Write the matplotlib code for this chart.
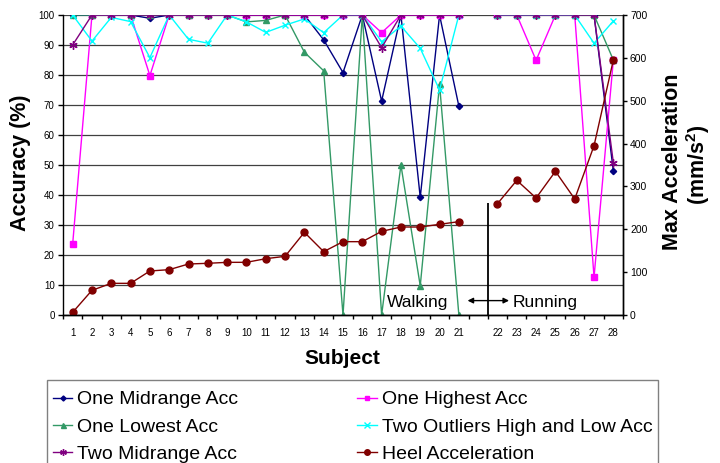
import numpy as np
import matplotlib
matplotlib.use('Agg')
import matplotlib.pyplot as plt
from matplotlib.lines import Line2D
from matplotlib.patches import Rectangle

plt.rcParams['font.family'] = ['Liberation Sans', 'DejaVu Sans']
plt.rcParams['mathtext.fontset'] = 'custom'
plt.rcParams['mathtext.rm'] = 'Liberation Sans'
plt.rcParams['mathtext.bf'] = 'Liberation Sans:bold'

# ---------------- data ----------------
categories = [str(i) for i in range(1, 22)] + [''] + [str(i) for i in range(22, 29)]

one_midrange = [100, 100, 100, 100, 98.9, 100, 100, 100, 100, 100, 100, 100, 100, 91.7,
                80.8, 100, 71.3, 100, 39.2, 100, 69.6,
                100, 100, 100, 100, 100, 100, 48]
one_highest = [23.6, 100, 100, 100, 79.8, 100, 100, 100, 100, 100, 100, 100, 100, 100,
               100, 100, 94.1, 100, 100, 100, 100,
               100, 100, 84.9, 100, 100, 12.6, 85]
one_lowest = [100, 100, 100, 100, 100, 100, 100, 100, 100, 97.7, 98.2, 100, 87.6, 81.4,
              0, 100, 0, 50, 9.7, 76.9, 0,
              100, 100, 100, 100, 100, 100, 85]
two_outliers = [100, 91.3, 99.2, 97.8, 85.8, 100, 91.9, 90.6, 100, 97.7, 94.2, 96.6, 98.7, 94.1,
                100, 100, 91.1, 96.3, 88.9, 75, 100,
                100, 100, 100, 100, 100, 90.6, 98]
two_midrange = [90, 100, 100, 100, 100, 100, 100, 100, 100, 100, 100, 100, 100, 100,
                100, 100, 89.1, 100, 100, 100, 100,
                100, 100, 100, 100, 100, 100, 50.8]
heel_acc = [6.2, 57.6, 73.9, 73.9, 102.7, 105.8, 119, 120.6, 122.9, 122.9, 131.4, 136.9, 192.9, 147.8,
            171.1, 171.1, 195.2, 205.3, 205.3, 211.6, 217.8,
            259.8, 314.2, 273, 335.2, 270.7, 395.1, 595]

series_names = ['One Midrange Acc', 'One Highest Acc', 'One Lowest Acc',
                'Two Outliers High and Low Acc', 'Two Midrange Acc', 'Heel Acceleration']

# ---------------- helpers ----------------
x = np.arange(len(categories))
gap = categories.index('')


def expand(vals):
    return np.insert(np.asarray(vals, dtype=float), gap, np.nan)


fig = plt.figure(figsize=(7.2, 4.63), dpi=100)
ax = fig.add_axes([63 / 720, 1 - 315 / 463, 560 / 720, 300 / 463])
ax2 = ax.twinx()

styles = [
    dict(color='#000080', marker='D', ms=3.2),
    dict(color='#FF00FF', marker='s', ms=4),
    dict(color='#339966', marker='^', ms=4.5),
    dict(color='#00FFFF', marker='x', ms=5, mew=1),
    dict(color='#800080', marker=(6, 2, 0), ms=6, mew=1),
    dict(color='#800000', marker='o', ms=5),
]
acc_series = [one_midrange, one_highest, one_lowest, two_outliers, two_midrange]
for vals, st in zip(acc_series, styles[:5]):
    ax.plot(x, expand(vals), lw=1.0, **st)
ax2.plot(x, expand(heel_acc), lw=1.0, **styles[5])

# axes
ax.set_xlim(-0.5, len(categories) - 0.5)
ax.set_ylim(0, 100)
ax2.set_ylim(0, 700)
ax.set_xticks(x)
ax.set_xticklabels(categories)
ax.set_xticks(np.arange(-0.5, len(categories) + 0.5, 1), minor=True)
ax.tick_params(axis='x', which='major', length=0, pad=9, labelsize=7)
ax.tick_params(axis='x', which='minor', length=3, direction='out', width=1)
ax.set_yticks(np.arange(0, 101, 10))
ax.tick_params(axis='y', length=3.5, pad=2.5, labelsize=7, width=1)
ax2.set_yticks(np.arange(0, 701, 100))
ax2.tick_params(axis='y', length=3, pad=2, labelsize=7.5, width=1)
ax.yaxis.grid(True, color='#404040', lw=0.9)
ax.set_axisbelow(True)
for a in (ax, ax2):
    a.spines['top'].set_visible(False)
    for s in ('left', 'right', 'bottom'):
        a.spines[s].set_linewidth(1.0)
ax2.spines['left'].set_visible(False)

# annotations
ax.text(17.87, 4.0, 'Walking', ha='center', va='center', fontsize=12.5)
ax.text(24.47, 4.0, 'Running', ha='center', va='center', fontsize=12.5)
ax.annotate('', xy=(20.45, 4.8), xytext=(22.6, 4.8),
            arrowprops=dict(arrowstyle='<|-|>', color='black', lw=1, mutation_scale=8,
                            shrinkA=0, shrinkB=0))
ax.vlines(gap + 0.5, 0, 37.3, color='black', lw=1.3)

# labels
fig.text(21 / 720, 1 - 163 / 463, 'Accuracy (%)', rotation=90, ha='center', va='center',
         fontsize=15.5, fontweight='bold')
fig.text(672 / 720, 1 - 162 / 463, 'Max Acceleration', rotation=90, ha='center', va='center',
         fontsize=15.5, fontweight='bold')
fig.text(698 / 720, 1 - 165 / 463, r'(mm/s$^{\mathbf{2}}$)', rotation=90, ha='center', va='center',
         fontsize=15.5, fontweight='bold')
fig.text(342 / 720, 1 - 359 / 463, 'Subject', ha='center', va='center',
         fontsize=15, fontweight='bold')

# legend frame (extends past the bottom edge, as in the reference)
fig.patches.append(Rectangle((47 / 720, -0.05), 611 / 720, 1 - 380 / 463 + 0.05,
                             transform=fig.transFigure, facecolor='white',
                             edgecolor='#808080', lw=1.0, zorder=0))

# legend (Excel order row-wise -> matplotlib column-wise)
handles = [Line2D([], [], lw=1.0, **st) for st in styles]
order = [0, 2, 4, 1, 3, 5]
leg = fig.legend([handles[i] for i in order], [series_names[i] for i in order],
                 loc='upper left', bbox_to_anchor=(47 / 720, 0, 611 / 720, 1 - 385 / 463),
                 mode='expand', ncol=2, fontsize=14, frameon=False,
                 borderaxespad=0, handlelength=1.0, handletextpad=0.25,
                 labelspacing=0.5, borderpad=0.3, markerscale=0.8)

fig.savefig('out.png', dpi=100)
